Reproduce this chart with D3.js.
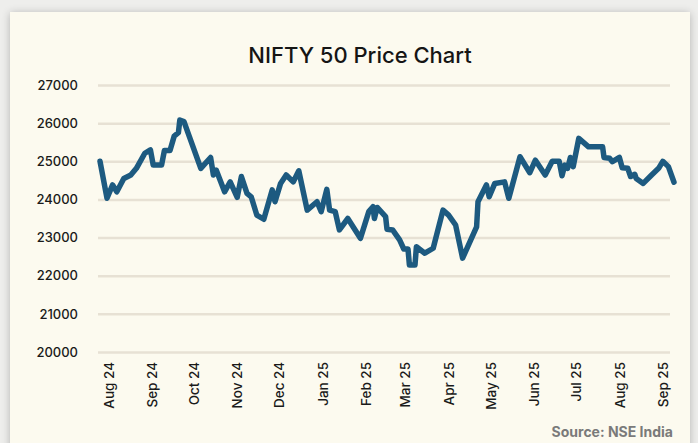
<!DOCTYPE html>
<html>
<head>
<meta charset="utf-8">
<script src="https://cdn.jsdelivr.net/npm/d3@7"></script>
<style>
  html, body { margin: 0; padding: 0; background: #eeeeec; }
  svg { display: block; }
</style>
</head>
<body>
<div id="chart"></div>
<script>
// Chart size
var svgWidth = 698;
var svgHeight = 443;

// Data
var dates = [
  "2024-07-26", "2024-07-31", "2024-08-04", "2024-08-07", "2024-08-12", "2024-08-17",
  "2024-08-21", "2024-08-27", "2024-08-31", "2024-09-02", "2024-09-08", "2024-09-10",
  "2024-09-14", "2024-09-17", "2024-09-20", "2024-09-21", "2024-09-24", "2024-09-27",
  "2024-10-06", "2024-10-13", "2024-10-15", "2024-10-17", "2024-10-23", "2024-10-27",
  "2024-11-01", "2024-11-04", "2024-11-08", "2024-11-11", "2024-11-15", "2024-11-20",
  "2024-11-26", "2024-11-28", "2024-12-02", "2024-12-06", "2024-12-11", "2024-12-15",
  "2024-12-21", "2024-12-28", "2024-12-31", "2025-01-04", "2025-01-06", "2025-01-10",
  "2025-01-13", "2025-01-19", "2025-01-28", "2025-02-03", "2025-02-06", "2025-02-07",
  "2025-02-09", "2025-02-15", "2025-02-16", "2025-02-20", "2025-02-25", "2025-02-28",
  "2025-03-03", "2025-03-04", "2025-03-08", "2025-03-09", "2025-03-15", "2025-03-21",
  "2025-03-28", "2025-04-01", "2025-04-06", "2025-04-11", "2025-04-21", "2025-04-22",
  "2025-04-28", "2025-04-30", "2025-05-04", "2025-05-11", "2025-05-14", "2025-05-22",
  "2025-05-29", "2025-06-02", "2025-06-09", "2025-06-14", "2025-06-19", "2025-06-21",
  "2025-06-23", "2025-06-25", "2025-06-27", "2025-06-29", "2025-07-03", "2025-07-10",
  "2025-07-20", "2025-07-21", "2025-07-25", "2025-07-27", "2025-08-01", "2025-08-03",
  "2025-08-07", "2025-08-09", "2025-08-12", "2025-08-13", "2025-08-18", "2025-08-24",
  "2025-08-29", "2025-09-01", "2025-09-05", "2025-09-09"
];
var prices = [
  25000, 24030, 24380, 24200, 24550, 24640,
  24815, 25210, 25300, 24900, 24900, 25280,
  25280, 25660, 25750, 26080, 26040, 25730,
  24815, 25100, 24640, 24770, 24200, 24460,
  24055, 24600, 24160, 24070, 23590, 23480,
  24250, 23940, 24420, 24640, 24460, 24750,
  23720, 23940, 23680, 24265, 23720, 23680,
  23200, 23500, 22980, 23680, 23810, 23500,
  23790, 23550, 23220, 23200, 22940, 22700,
  22700, 22280, 22280, 22760, 22590, 22720,
  23720, 23590, 23330, 22460, 23280, 23940,
  24380, 24070, 24420, 24460, 24030, 25120,
  24700, 25030, 24640, 25000, 25000, 24620,
  24900, 24815, 25100, 24860, 25600, 25380,
  25380, 25100, 25080, 24990, 25100, 24830,
  24815, 24600, 24660, 24550, 24420, 24640,
  24815, 25000, 24860, 24450
];

// Axis ticks
var yTicks = [20000, 21000, 22000, 23000, 24000, 25000, 26000, 27000];
var xTickDates = [
  "2024-08-01", "2024-09-01", "2024-10-01", "2024-11-01", "2024-12-01", "2025-01-01",
  "2025-02-01", "2025-03-01", "2025-04-01", "2025-05-01", "2025-06-01", "2025-07-01",
  "2025-08-01", "2025-09-01"
];
var xTickLabels = [
  "Aug 24", "Sep 24", "Oct 24", "Nov 24", "Dec 24", "Jan 25", "Feb 25",
  "Mar 25", "Apr 25", "May 25", "Jun 25", "Jul 25", "Aug 25", "Sep 25"
];

var parseDate = d3.timeParse("%Y-%m-%d");
var data = dates.map((d, i) => ({ date: parseDate(d), price: prices[i] }));
var tickDates = xTickDates.map(parseDate);

var font = "Inter, 'Open Sans', sans-serif";

var svg = d3.select("#chart")
  .append("svg")
  .attr("width", svgWidth)
  .attr("height", svgHeight);

// Card with soft shadow
var defs = svg.append("defs");
var shadow = defs.append("filter")
  .attr("id", "shadow")
  .attr("x", "-5%").attr("y", "-5%")
  .attr("width", "110%").attr("height", "110%");
shadow.append("feGaussianBlur").attr("in", "SourceAlpha").attr("stdDeviation", 4);
shadow.append("feOffset").attr("dx", 0).attr("dy", 1).attr("result", "blur");
shadow.append("feComponentTransfer").append("feFuncA").attr("type", "linear").attr("slope", 0.25);
var merge = shadow.append("feMerge");
merge.append("feMergeNode");
merge.append("feMergeNode").attr("in", "SourceGraphic");

svg.append("rect")
  .attr("x", 10)
  .attr("y", 12)
  .attr("width", 680)
  .attr("height", 450)
  .attr("fill", "#fcfaef")
  .attr("filter", "url(#shadow)");

// Title
svg.append("text")
  .attr("x", 360)
  .attr("y", 63)
  .attr("text-anchor", "middle")
  .style("font-family", font)
  .style("font-size", "22px")
  .style("font-weight", 500)
  .style("fill", "#151515")
  .text("NIFTY 50 Price Chart");

// Scales
var xScale = d3.scaleTime()
  .domain(d3.extent(data, d => d.date))
  .range([100, 674]);

var yScale = d3.scaleLinear()
  .domain([20000, 27000])
  .range([352, 85]);

// Y axis with gridlines
var yAxis = d3.axisLeft(yScale)
  .tickValues(yTicks)
  .tickSize(-572)
  .tickPadding(20)
  .tickFormat(d3.format("d"));

var yGroup = svg.append("g")
  .attr("transform", "translate(98,0)")
  .call(yAxis);

yGroup.select(".domain").remove();
yGroup.selectAll(".tick line")
  .attr("stroke", "#e7e1d4")
  .attr("stroke-width", 2.5);
yGroup.selectAll(".tick text")
  .style("font-family", font)
  .style("font-size", "13px")
  .style("font-weight", 500)
  .style("fill", "#1a1a1a");

// X axis with rotated month labels
var xAxis = d3.axisBottom(xScale)
  .tickValues(tickDates)
  .tickSize(0)
  .tickFormat((d, i) => xTickLabels[i]);

var xGroup = svg.append("g")
  .attr("transform", "translate(0,362)")
  .call(xAxis);

xGroup.select(".domain").remove();
xGroup.selectAll(".tick text")
  .attr("transform", "rotate(-90)")
  .attr("x", 0)
  .attr("y", 0)
  .attr("dy", "0.35em")
  .attr("text-anchor", "end")
  .style("font-family", font)
  .style("font-size", "13.5px")
  .style("font-weight", 500)
  .style("fill", "#1a1a1a");

// Price line
var line = d3.line()
  .x(d => xScale(d.date))
  .y(d => yScale(d.price));

svg.append("path")
  .datum(data)
  .attr("d", line)
  .attr("fill", "none")
  .attr("stroke", "#1d5a80")
  .attr("stroke-width", 5.5)
  .attr("stroke-linejoin", "round")
  .attr("stroke-linecap", "round");

// Source note
svg.append("text")
  .attr("x", 673)
  .attr("y", 437)
  .attr("text-anchor", "end")
  .style("font-family", font)
  .style("font-size", "14px")
  .style("font-weight", 700)
  .style("fill", "#7a7a7a")
  .text("Source: NSE India");
</script>
</body>
</html>
